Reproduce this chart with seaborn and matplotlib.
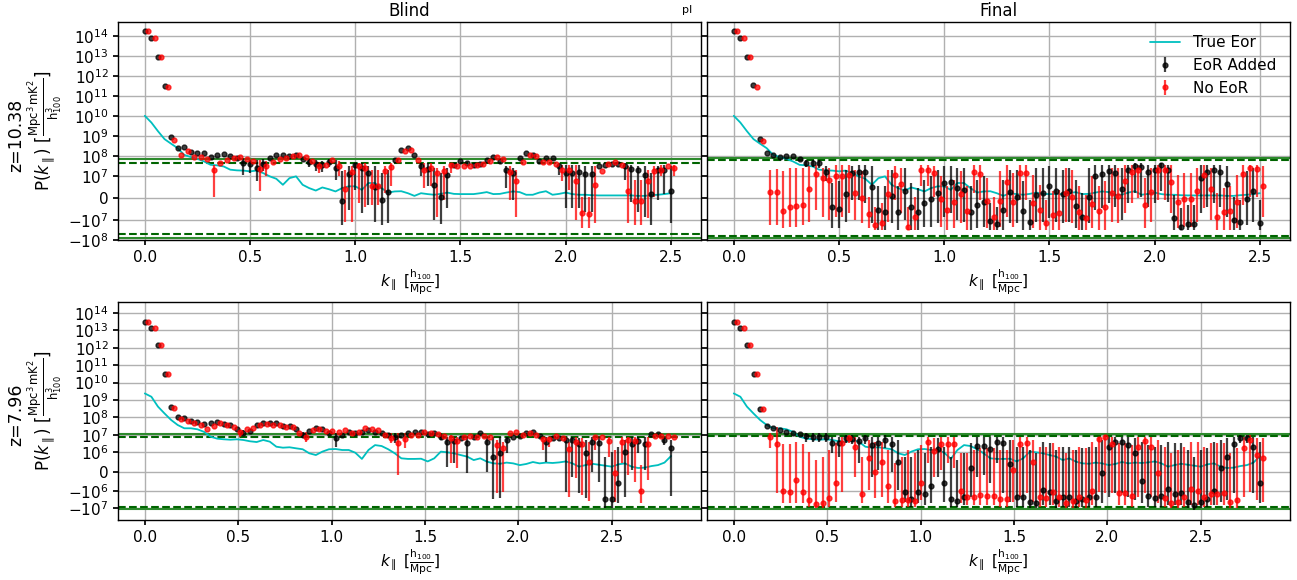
import numpy as np
import matplotlib
matplotlib.use('Agg')
import matplotlib.pyplot as plt
import seaborn as sns

n = np.nan

# k_parallel grids (h100/Mpc), 81 bins each
k_z1038 = np.linspace(0, 2.5, 81)
k_z796 = np.linspace(0, 2.818, 81)

#%% z = 10.38 ----------------------------------------------------------------
true_z1038 = [1e10, 4.6e9, 1.7e9, 6.8e8, 4e8, 2.4e8, 1.1e8, 8.6e7, 7e7, 5.2e7,
              3.5e7, 3.3e7, 2.9e7, 2e7, 1.85e7, 1.8e7, 1.65e7, 1.8e7, 1.35e7, 9.7e6,
              8.6e6, 5.9e6, 8.9e6, 9.7e6, 5.9e6, 4.4e6, 3.3e6, 4.7e6, 3.9e6, 2.9e6,
              4.4e6, 5.2e6, 5.2e6, 3.6e6, 6.7e6, 6.7e6, 4.4e6, 2.4e6, 2.9e6, 3e6,
              2.1e6, 9e5, 2.1e6, 1.7e6, 1.4e6, 1.8e6, 2.4e6, 1.8e6, 1.7e6, 1.7e6,
              1.7e6, 2.1e6, 2.6e6, 1.7e6, 1.8e6, 2.4e6, 2.9e6, 2.6e6, 1.4e6, 1.4e6,
              2.4e6, 3e6, 1.4e6, 1.8e6, 2.4e6, 1.7e6, 1.4e6, 1.4e6, 1.2e6, 1.1e6,
              1.1e6, 1.1e6, 1.1e6, 1.1e6, 1.1e6, 9e5, 9e5, 1.2e6, 1.4e6, 1.7e6,
              2.1e6]

# Blind, EoR added (value, top of bar, bottom of bar; nan = no visible bar)
blind_add_z1038 = [1.7e14, 8.3e13, 9.2e12, 3.2e11, 8.6e8, 2.4e8, 2.8e8, 1.6e8, 1.36e8, 1.36e8,
                   8.6e7, 1.08e8, 1.2e8, 9.3e7, 7.6e7, 4.3e7, 3.8e7, 2.4e7, 3.8e7, 7.6e7,
                   1.03e8, 1.08e8, 9.3e7, 1.03e8, 7.1e7, 4.6e7, 4e7, 3.5e7, 4.8e7, 2.5e7,
                   -1.4e6, 1.26e7, 3.3e7, 2.4e7, 1.36e7, 4.8e6, -9e5, 2.6e6, 6.3e7, 2e8,
                   2.5e8, 1.03e8, 2.9e7, 2.15e7, 5.6e6, 3e5, 1.12e7, 3.5e7, 5.2e7, 4.3e7,
                   3.5e7, 3.8e7, 5.8e7, 8.6e7, 5.4e7, 1.85e7, 1.36e7, 7.6e7, 1.36e8, 1.03e8,
                   5.6e7, 7.6e7, 7.4e7, 2.9e7, 1.36e7, 1.36e7, 1.47e7, 1.2e7, 1.2e7, 2.9e7,
                   3.4e7, 3.8e7, 4e7, 2.9e7, 2.15e7, 1.85e7, 1.12e7, 1.8e6, 1.85e7, 2e7,
                   3.3e6]
blind_add_hi_z1038 = [n, n, n, n, n, n, n, n, n, n,
                      n, n, n, n, n, 7.6e7, 6.3e7, 6.3e7, 6.8e7, n,
                      n, n, n, n, n, 6.8e7, 6.3e7, 5.5e7, 6.8e7, 6.3e7,
                      1.65e7, 2.9e7, 4.3e7, 4.3e7, 2.9e7, 2.9e7, 1.36e7, 2e7, n, n,
                      n, n, 4.3e7, 4.3e7, 2.4e7, 1.36e7, 2.4e7, n, n, n,
                      n, n, n, n, n, 2.9e7, 2.4e7, n, n, n,
                      n, n, n, 4.3e7, 3.5e7, 3.5e7, 3.5e7, 2.9e7, 2.9e7, n,
                      n, n, n, 4.3e7, 3.5e7, 2.9e7, 2.9e7, 1.36e7, 2.9e7, 3.5e7,
                      2.9e7]
blind_add_lo_z1038 = [n, n, n, n, n, n, n, n, n, n,
                      n, n, n, n, n, 1.1e7, 1.36e7, 7.4e6, 1.65e7, n,
                      n, n, n, n, n, 2.6e7, 1.8e7, 1.5e7, 2.8e7, 8.2e6,
                      -1.8e7, -5.5e6, 3.6e6, -7e6, -3.2e6, -1.2e7, -1.8e7, -1.47e7, n, n,
                      n, n, 9.7e6, 5.2e6, -1e7, -1.6e7, -4.7e6, n, n, n,
                      n, n, n, n, n, 4.4e6, -9e5, n, n, n,
                      n, n, n, 1.12e7, -4.7e6, -4.7e6, -4.7e6, -6.2e6, -6.2e6, n,
                      n, n, n, 8.2e6, -1.7e6, -6.2e6, -8.5e6, -1.8e7, -9e5, 1.9e6,
                      -1.47e7]

# Blind, no EoR
blind_no_z1038 = [1.7e14, 8.3e13, 9.2e12, 2.9e11, 6.3e8, 1.1e8, 1.8e8, 8.6e7, 8.6e7, 7.1e7,
                  1.85e7, 4.3e7, 6.3e7, 7.6e7, 8.6e7, 6.8e7, 5.2e7, 2.15e7, 3.2e7, 4.8e7,
                  6.8e7, 7.4e7, 9.3e7, 1.03e8, 8.6e7, 5.2e7, 3.2e7, 3.5e7, 5.8e7, 2.9e7,
                  3.9e6, 1.47e7, 2.9e7, 2.4e7, 5.2e6, 5.2e6, 1.65e7, 2.7e7, 6.3e7, 1.8e8,
                  1.85e8, 6.3e7, 2e7, 2.4e7, 1.36e7, 1.65e7, 3.3e7, 2.9e7, 2.9e7, 3.2e7,
                  3.3e7, 3.8e7, 5.2e7, 8.6e7, 6.8e7, 1.5e7, 7.7e6, 4.8e7, 1.03e8, 9.3e7,
                  4.6e7, 4.8e7, 3.8e7, 2e7, 2e7, 7.4e6, -7e6, -7.3e6, 5.6e6, 1.65e7,
                  3.8e7, 4.6e7, 3.5e7, 3.3e6, -1.2e6, -1.2e6, 7.4e6, 1.65e7, 2e7, 3.2e7,
                  2.3e7]
blind_no_hi_z1038 = [n, n, n, n, n, n, n, n, n, n,
                     3.5e7, n, n, n, n, n, n, 6.3e7, 5.2e7, n,
                     n, n, n, n, n, n, 4.6e7, n, n, 5.2e7,
                     2e7, 2.9e7, 4.3e7, 4.3e7, 2e7, 2e7, 2.9e7, 4.3e7, n, n,
                     n, n, 4.3e7, 4.3e7, 2.4e7, 2.9e7, 4.3e7, n, n, n,
                     n, n, n, n, n, 2.9e7, 2e7, n, n, n,
                     n, n, n, 3.5e7, 3.5e7, 3.5e7, 6e5, 6e5, 2.9e7, n,
                     n, n, n, 2.9e7, 8.2e6, 8.2e6, 2e7, 2.9e7, 3.5e7, n,
                     3.5e7]
blind_no_lo_z1038 = [n, n, n, n, n, n, n, n, n, n,
                     6e5, n, n, n, n, n, n, 3.3e6, 9.7e6, n,
                     n, n, n, n, n, n, 1.36e7, n, n, 9.7e6,
                     -1.2e7, -1.2e7, -2.4e6, -3.9e6, -3.2e6, -3.2e6, 2.1e6, 5.2e6, n, n,
                     n, n, 4.4e6, 5.2e6, -8.5e6, -9e5, 1.36e7, n, n, n,
                     n, n, n, n, n, -9e5, -8.5e6, n, n, n,
                     n, n, n, 7.4e6, 3.6e6, -1e7, -2.6e7, -2.6e7, -1.47e7, n,
                     n, n, n, -1.47e7, -1.8e7, -1.8e7, -9.2e6, 4.5e5, 9.7e6, n,
                     9.7e6]

# Final, EoR added
final_add_z1038 = [1.7e14, 8.3e13, 9.2e12, 3.4e11, 6.8e8, 1.36e8, 1.03e8, 8.6e7, 9.3e7, 9.6e7,
                   7.1e7, 4.3e7, 4.3e7, 4.3e7, 1.6e7, -3.9e6, -5.2e6, 1.7e6, 1.3e7, 1.47e7,
                   1.5e7, 5e6, -5.5e6, -6.5e6, 7.6e5, -6.2e6, 3.2e6, -4.2e6, -6.5e6, -2.4e6,
                   -6e5, 2.4e6, 6.5e6, 7.3e6, 4.4e6, 3.6e6, -6.4e6, -3e6, -1.7e6, -1.1e7,
                   -1.6e7, -5.5e6, 2.6e6, 3e5, -5.9e6, -1.3e7, 1.5e6, 2.1e6, 5.5e6, 3.3e6,
                   1.8e6, 3.2e6, -3.6e6, -8.8e6, 3e5, 9.7e6, 1.15e7, 1.8e7, 1.3e7, 3.9e6,
                   1.85e7, 2.9e7, 2.7e7, 1.47e7, 1.85e7, 3.3e7, 2e7, -9.2e6, -2.15e7, -1.65e7,
                   -1.65e7, 8.9e6, 1.47e7, 1.85e7, 1.47e7, 6.4e6, -1e7, -1.3e7, -4.5e5, 2.9e6,
                   -1.47e7]
final_add_hi_z1038 = [n, n, n, n, n, n, n, n, n, n,
                      n, 5.8e7, 5.8e7, 6.3e7, 2.9e7, 6.7e6, 7.4e6, 2e7, 2.9e7, 3.5e7,
                      3.5e7, 2.9e7, 5.2e6, 5.2e6, 2e7, 5.2e6, 2.4e7, 6.7e6, 4.4e6, 8.2e6,
                      9.7e6, 2e7, 2.9e7, 2.9e7, 2.4e7, 2.4e7, 5.2e6, 8.2e6, 9.7e6, -2.4e6,
                      -3.9e6, 8.2e6, 2e7, 2e7, 7.4e6, -9e5, 2.4e7, 2.4e7, 2.9e7, 2.4e7,
                      2e7, 2.4e7, 8.2e6, 2.1e6, 2.4e7, 3.5e7, 3.5e7, 3.5e7, 3.5e7, 2.4e7,
                      3.5e7, 4.3e7, 4.3e7, 3.5e7, 3.5e7, 4.3e7, 3.5e7, 1.4e6, -4.7e6, -3.2e6,
                      -3.2e6, 3.5e7, 3.5e7, 3.5e7, 3.5e7, 2.9e7, 6e5, -9e5, 1.65e7, 2.4e7,
                      -9e5]
final_add_lo_z1038 = [n, n, n, n, n, n, n, n, n, n,
                      n, 2.8e7, 2.8e7, 2.4e7, 7.4e6, -2.6e7, -2.6e7, -1.2e7, -9e5, -9e5,
                      -2.4e6, -1.47e7, -3.2e7, -3.2e7, -1.47e7, -3.2e7, -1e7, -3.2e7, -3.2e7, -2.15e7,
                      -2.15e7, -1.47e7, -8.5e6, -7e6, -1e7, -1.2e7, -3.2e7, -2.6e7, -2.15e7, -3.2e7,
                      -3.2e7, -3.2e7, -1.47e7, -1.47e7, -3.2e7, -3.2e7, -1.2e7, -1.2e7, -9.2e6, -1.2e7,
                      -1.47e7, -1.2e7, -2.6e7, -3.2e7, -1.47e7, -5.5e6, -4.7e6, -2.4e6, -3.9e6, -1e7,
                      -2.4e6, 2.1e6, 6e5, -3.9e6, -2.4e6, 2.9e6, -1.7e6, -3.2e7, -3.2e7, -3.2e7,
                      -3.2e7, -7e6, -3.9e6, -2.4e6, -3.9e6, -8.5e6, -3.2e7, -3.2e7, -1.8e7, -1.2e7,
                      -3.2e7]

# Final, no EoR
final_no_z1038 = [1.7e14, 8.3e13, 9.2e12, 2.9e11, 5.2e8, 2.6e6, 2.6e6, -5.8e6, -4.2e6, -3.5e6,
                  -3e6, 3.9e6, 1.2e7, 8.9e6, 8.2e6, 1e7, 9.7e6, 1.1e7, 2.1e6, -1.5e5,
                  -7.4e6, -1.85e7, -1.35e7, 1.8e6, 1.08e7, 6.2e6, -2.15e7, -8.8e6, 1.85e7, 2e7,
                  1.36e7, -4.5e5, -5.5e6, -1.7e6, 1.8e6, -5.8e6, 1.6e7, 1.2e7, -1.2e6, -8.8e6,
                  -1.4e6, 7e6, -1.7e6, 1.36e7, 1.36e7, -2.4e6, -5.5e6, -1.35e7, -7.7e6, -7e6,
                  2.1e6, 3e5, -6.2e6, -9.2e6, -2.7e6, -5.8e6, -4.2e6, 2.4e6, 9e5, 7.4e6,
                  1.47e7, 2e7, -3.2e6, 2.6e6, 1.85e7, 1.85e7, 7.3e6, -1.7e6, -6e5, -6e5,
                  3.3e6, 1.05e7, 3.9e6, -8.8e6, -6.5e6, -5.8e6, -1.7e6, 1.2e7, 2.3e7, 2.15e7,
                  5.5e6]
final_no_hi_z1038 = [n, n, n, n, n, 2e7, 2.15e7, 1.65e7, 2.4e7, 2.4e7,
                     2.4e7, 2.9e7, 3.5e7, 2.4e7, 2.4e7, 3.5e7, 3.5e7, 3.5e7, 2e7, 1.65e7,
                     6e5, -3.9e6, -2.4e6, 2e7, 2.9e7, 2.4e7, -3.9e6, 6e5, 3.5e7, 3.5e7,
                     2.9e7, 9.7e6, 5.2e6, 8.2e6, 1.65e7, 5.2e6, 3.5e7, 3.5e7, 8.9e6, 6e5,
                     1.65e7, 3.5e7, 1.36e7, 3.5e7, 3.5e7, 1.12e7, 5.9e6, -9e5, 2.9e6, 3.6e6,
                     2.4e7, 2e7, 5.2e6, 1.4e6, 9.7e6, 5.2e6, 7.4e6, 2.4e7, 2.4e7, 3.5e7,
                     3.5e7, 3.5e7, 8.9e6, 2.4e7, 3.5e7, 3.5e7, 3.5e7, 1.12e7, 1.36e7, 1.36e7,
                     2.4e7, 3.5e7, 2.4e7, 2.1e6, 4.4e6, 5.2e6, 1.12e7, 3.5e7, 3.5e7, 3.5e7,
                     2.9e7]
final_no_lo_z1038 = [n, n, n, n, n, -1.8e7, -1.8e7, -2.6e7, -2.15e7, -2.15e7,
                     -1.8e7, -1.2e7, -5.5e6, -8.5e6, -1e7, -8.5e6, -8.5e6, -7e6, -1e7, -1.47e7,
                     -2.6e7, -3.2e7, -3.2e7, -1.2e7, -9e5, -7e6, -3.2e7, -3.2e7, 5.2e6, 5.2e6,
                     6e5, -2.15e7, -3.2e7, -2.6e7, -1.47e7, -3.2e7, 2.1e6, -9e5, -2.6e7, -3.2e7,
                     -2.15e7, -8.5e6, -2.15e7, -9e5, -9e5, -2.6e7, -3.2e7, -3.2e7, -3.2e7, -3.2e7,
                     -1.2e7, -1.47e7, -3.2e7, -3.2e7, -2.6e7, -3.2e7, -3.2e7, -1.2e7, -1.47e7, -7e6,
                     -2.4e6, -1.5e5, -2.6e7, -1.2e7, -9e5, -9e5, -7e6, -2.6e7, -2.15e7, -2.15e7,
                     -1.2e7, -4.7e6, -1e7, -3.2e7, -3.2e7, -3.2e7, -2.6e7, -3.2e6, 6e5, 6e5,
                     -8.5e6]

#%% z = 7.96 ------------------------------------------------------------------
true_z796 = [2.4e9, 1.55e9, 4.2e8, 1.7e8, 7.2e7, 3.7e7, 2.4e7, 2.4e7, 2.1e7, 1.5e7,
             7.9e6, 6.1e6, 5.6e6, 5.3e6, 5.6e6, 5.1e6, 4.3e6, 3.9e6, 5.1e6, 4.1e6,
             2.1e6, 1.85e6, 1.95e6, 1.7e6, 1.5e6, 9.5e5, 8.6e5, 1.1e6, 1.5e6, 1.55e6,
             1.36e6, 1.36e6, 9.8e5, 6.6e5, 1.36e6, 2.6e6, 2.3e6, 1.5e6, 9.5e5, 6.9e5,
             6.6e5, 6.6e5, 6.7e5, 5.3e5, 6.9e5, 1.1e6, 1e6, 9.5e5, 8.6e5, 7.8e5,
             6e5, 6.9e5, 5.2e5, 4.3e5, 4.1e5, 4.7e5, 4.3e5, 3.4e5, 4e5, 5e5,
             4.3e5, 4.7e5, 4.5e5, 4.8e5, 5.3e5, 4.3e5, 2.6e5, 3.4e5, 4.1e5, 3.6e5,
             3.1e5, 2.6e5, 3.8e5, 4.3e5, 2.6e5, 1.9e5, 2.1e5, 2.9e5, 3.4e5, 4.7e5,
             8.1e5]

blind_add_z796 = [2.9e13, 1.4e13, 1.45e12, 3.1e10, 3.8e8, 1e8, 8.9e7, 6.6e7, 5.7e7, 4e7,
                  4.6e7, 5.3e7, 4.2e7, 3.7e7, 2.1e7, 1.35e7, 1.7e7, 3.7e7, 5e7, 5e7,
                  4.6e7, 3.2e7, 3.2e7, 2.1e7, 9.8e6, 1.75e7, 2.4e7, 2.2e7, 1.23e7, 6.3e6,
                  1.05e7, 1.4e7, 1.35e7, 1.5e7, 1.9e7, 1.5e7, 1.35e7, 9.8e6, 7.9e6, 9.8e6,
                  1.35e7, 1.5e7, 1.5e7, 1.13e7, 1.23e7, 7.9e6, 4.1e6, 4.7e6, 6.3e6, 3.6e6,
                  7.9e6, 1.23e7, 4.1e6, 7.8e5, 9.5e5, 5.1e6, 7.9e6, 8.9e6, 1.23e7, 1.5e7,
                  8.9e6, 4.1e6, 6.3e6, 6.3e6, 5.1e6, 5.1e6, 3e6, 9.8e5, 4.1e6, 3.3e6,
                  -3e6, -3e6, -5.7e5, 1.1e6, 3e6, 4.7e6, 3e6, 1.13e7, 1.13e7, 5.1e6,
                  1.7e6]
blind_add_hi_z796 = [n, n, n, n, n, n, n, n, n, n,
                     n, n, n, n, n, 1.9e7, n, n, n, n,
                     n, n, n, n, 1.5e7, n, n, n, n, 1.23e7,
                     n, n, n, n, n, n, n, n, 1.23e7, n,
                     n, n, n, n, n, 1.23e7, 7.9e6, 7.9e6, n, 7.9e6,
                     n, n, 7.9e6, 7.9e6, 7.9e6, 7.9e6, n, n, n, n,
                     n, 7.9e6, n, n, 7.9e6, 7.9e6, 6.3e6, 5.1e6, 7.9e6, 7.9e6,
                     7.8e5, 1.1e6, 2.1e6, 5.1e6, 7.9e6, 7.9e6, 7.9e6, n, n, 7.9e6,
                     5.1e6]
blind_add_lo_z796 = [n, n, n, n, n, n, n, n, n, n,
                     n, n, n, n, n, 9.8e6, n, n, n, n,
                     n, n, n, n, 6.3e6, n, n, n, n, 2.1e6,
                     n, n, n, n, n, n, n, n, 3.3e6, n,
                     n, n, n, n, n, 5e6, 2.6e5, 4.3e5, n, -8.6e4,
                     n, n, 0, -3e6, -2.6e6, 9.5e5, n, n, n, n,
                     n, 5.2e5, n, n, -1.1e6, -2.6e5, -1.36e6, -2.6e6, 0, -5.2e5,
                     -9.8e6, -9.8e6, -5.1e6, -2.1e6, 8.6e4, 9.5e5, 8.6e4, n, n, 2.6e6,
                     -1.85e6]

blind_no_z796 = [2.9e13, 1.4e13, 1.45e12, 3.1e10, 3.5e8, 8.5e7, 6.6e7, 5e7, 3.7e7, 2.3e7,
                 3.4e7, 4.6e7, 3.7e7, 2.8e7, 1.5e7, 2.1e7, 2.6e7, 3.7e7, 4.2e7, 3.7e7,
                 3.7e7, 3e7, 2.7e7, 1.35e7, 7.9e6, 1.9e7, 2.2e7, 1.7e7, 1.75e7, 1.5e7,
                 1.9e7, 1.35e7, 1.5e7, 2.4e7, 2.2e7, 1.9e7, 9.8e6, 7e6, 3.6e6, 5.6e6,
                 9.8e6, 1.05e7, 1.5e7, 1.35e7, 1.13e7, 8.6e6, 6.3e6, 4.7e6, 7.9e6, 8.9e6,
                 7.9e6, 8.9e6, 7.9e6, 2.6e6, 1.85e6, 1.23e7, 1.5e7, 1.05e7, 1.23e7, 1.05e7,
                 5.6e6, 5.6e6, 8.6e6, 6.3e6, 1.5e6, 4.1e6, 3e6, 5.2e5, 7.9e6, 7.9e6,
                 4.7e6, -5e4, 4.1e6, 5.1e6, 4.7e6, -1e6, 3e6, 8.9e6, 8.9e6, 8.9e6,
                 7.9e6]
blind_no_hi_z796 = [n, n, n, n, n, n, n, n, n, n,
                    n, n, n, n, 1.9e7, n, n, n, n, n,
                    n, n, n, n, 1.5e7, n, n, n, n, n,
                    n, n, n, n, n, n, n, 1.23e7, 1.23e7, 1.23e7,
                    n, n, n, n, n, n, 9.8e6, 7.9e6, n, n,
                    n, n, n, 5.1e6, 4.1e6, n, n, n, n, n,
                    7.9e6, 7.9e6, n, n, 4.1e6, 7.9e6, 6.3e6, 4.1e6, 7.9e6, n,
                    7.9e6, 1.36e6, 7.9e6, 7.9e6, 7.9e6, 3.4e5, 7.9e6, n, n, n,
                    n]
blind_no_lo_z796 = [n, n, n, n, n, n, n, n, n, n,
                    n, n, n, n, 7.9e6, n, n, n, n, n,
                    n, n, n, n, 4.1e6, n, n, n, n, n,
                    n, n, n, n, n, n, n, 3.6e6, -1.7e5, 1.7e6,
                    n, n, n, n, n, n, 4.3e5, 1.7e5, n, n,
                    n, n, n, -1.36e6, -1.1e6, n, n, n, n, n,
                    1.36e6, 2.1e6, n, n, -2.1e6, -3.4e5, -1.7e6, -3.6e6, 1.36e6, n,
                    7.8e5, -4.1e6, 4.3e5, -1.7e5, -5.2e5, -5.1e6, -4.3e5, n, n, n,
                    n]

final_add_z796 = [2.9e13, 1.3e13, 1.45e12, 3.3e10, 3.2e8, 3.4e7, 2.4e7, 1.9e7, 1.5e7, 1.35e7,
                  1.13e7, 8.6e6, 7.9e6, 7.9e6, 7.9e6, 3.6e6, 3.3e6, 6.3e6, 5.8e6, 4.5e6,
                  6.3e6, 2.6e6, 3.3e6, 5.1e6, 3e6, 5.2e5, -1.1e6, -2.9e6, -1.1e6, -1.55e6,
                  -7.4e5, 1.5e6, -5.7e5, -3e6, -3.6e6, -2.1e6, 2.1e5, 2.3e6, 2.3e6, 1.55e6,
                  4.1e6, 3.3e6, 3.8e5, -2.1e6, -2.3e6, -4.1e6, -4.7e6, -9.5e5, -1.14e6, -3.7e6,
                  -2.3e6, -2.3e6, -3.7e6, -2.9e6, -2.3e6, -2.3e6, -8.6e4, 2.1e6, 3.7e6, 3.9e6,
                  2.5e6, 9.8e5, -4.8e5, -1.85e6, -2.6e6, -1.85e6, -9.1e5, -1.5e6, -1.25e6, -4.1e6,
                  -6.3e6, -4.1e6, -3e6, -1e6, 1.7e5, 7.8e5, 3e6, 6.9e6, 6.9e6, 2.1e6,
                  -5.7e5]
final_add_hi_z796 = [n, n, n, n, n, n, n, n, n, n,
                     n, 1.23e7, 1.23e7, 1.23e7, 1.23e7, 7.9e6, 7.9e6, 9.8e6, 9.8e6, 7.9e6,
                     9.8e6, 7.9e6, 7.9e6, 9.8e6, 7.9e6, 5.1e6, 7.8e5, 7.8e5, 1.36e6, 9.5e5,
                     2.1e6, 6.3e6, 2.1e6, 7.8e5, 6e5, 9.5e5, 3.3e6, 7.9e6, 7.9e6, 7.9e6,
                     7.9e6, 7.9e6, 5.1e6, 2.1e6, 2.1e6, 1.36e6, 9.5e5, 4.1e6, 3.3e6, 1.36e6,
                     2.1e6, 2.1e6, 1.36e6, 1.7e6, 2.1e6, 2.1e6, 5.1e6, 7.9e6, 7.9e6, 7.9e6,
                     7.9e6, 6.3e6, 4.1e6, 2.6e6, 2.1e6, 2.6e6, 4.1e6, 3.3e6, 3.3e6, 1.36e6,
                     7.8e5, 1.36e6, 1.7e6, 4.1e6, 5.1e6, 6.3e6, 7.9e6, 9.8e6, 9.8e6, 7.9e6,
                     4.1e6]
final_add_lo_z796 = [n, n, n, n, n, n, n, n, n, n,
                     n, 4.1e6, 4.1e6, 4.1e6, 4.1e6, 9.5e5, 7.8e5, 3.3e6, 3e6, 4.3e5,
                     3e6, -2.6e5, 8.6e4, 1.7e6, 0, -9.5e5, -4.1e6, -7.9e6, -5.1e6, -6.3e6,
                     -5.1e6, -2.6e5, -4.1e6, -7.9e6, -7.9e6, -6.3e6, -2.1e6, -2.6e5, -1.7e5, -6e5,
                     4.3e5, -1.36e6, -4.1e6, -7.9e6, -7.9e6, -9.8e6, -9.8e6, -6.3e6, -6.3e6, -9.8e6,
                     -7.9e6, -7.9e6, -9.8e6, -7.9e6, -7.9e6, -7.9e6, -5.1e6, -2.1e6, -1.36e6, -1.36e6,
                     -2.1e6, -3.3e6, -5.1e6, -7.9e6, -7.9e6, -7.9e6, -6.3e6, -6.3e6, -6.3e6, -9.8e6,
                     -1.23e7, -9.8e6, -7.9e6, -6.3e6, -4.1e6, -3.3e6, -1.36e6, 3.3e6, 3.3e6, -1.36e6,
                     -5.1e6]

final_no_z796 = [2.9e13, 1.3e13, 1.45e12, 3.3e10, 2.9e8, 7.3e6, 3e6, -1e6, -1.1e6, -4.3e5,
                 -1.2e6, -3.3e6, -5.6e6, -5.1e6, -2.6e6, -6e5, 3.3e6, 6.9e6, 2.1e6, -1.5e6,
                 6.9e5, 0, 5.2e5, -7.4e5, -3.9e6, -3.3e6, -3.3e6, -3.6e6, -5.7e5, 3.9e6,
                 1.2e6, 3e6, 3e6, 3e6, -1e6, -2.1e6, -2.1e6, -1.7e6, -1.9e6, -1.9e6,
                 -2.8e6, -2.8e6, 8.6e4, 2.9e6, 3.6e6, 5.2e5, -2.1e6, -2.4e6, -1.2e6, -2.3e6,
                 -4.7e6, -3.5e6, -2.1e6, -3.3e6, -1e6, 5.8e6, 7.3e6, 2.9e6, -1.36e6, -1.36e6,
                 -1.85e6, 2.1e6, 4.7e6, 2.1e6, -8.6e4, -2.6e6, -4.7e6, -4.1e6, -2.3e6, -9.1e5,
                 -1e6, -2.3e6, -1.5e6, -1.55e6, -1.36e6, -4.5e6, -3.3e6, 1.7e6, 5.1e6, 8.6e5,
                 6.9e5]
final_no_hi_z796 = [n, n, n, n, n, 1.23e7, 3e7, 3e6, 3e6, 3.9e6,
                    3e6, 1.1e6, 6e5, 7.8e5, 1.36e6, 3.3e6, 7.9e6, 1e7, 7.9e6, 7.8e5,
                    5.1e6, 4.1e6, 4.1e6, 1.36e6, 4.3e5, 7.8e5, 1.36e6, 9.5e5, 2.6e6, 7.9e6,
                    6.3e6, 7.9e6, 7.9e6, 7.9e6, 9.5e5, 9.5e5, 1.36e6, 1.7e6, 1.7e6, 1.7e6,
                    1.36e6, 1.36e6, 5.1e6, 7.9e6, 7.9e6, 5.1e6, 2.1e6, 2.1e6, 3.3e6, 2.1e6,
                    9.5e5, 1.36e6, 2.1e6, 1.7e6, 4.1e6, 7.9e6, 9.8e6, 7.9e6, 3.3e6, 3.3e6,
                    2.6e6, 7.9e6, 7.9e6, 7.9e6, 5.1e6, 2.1e6, 9.5e5, 1.36e6, 2.1e6, 4.1e6,
                    4.1e6, 2.1e6, 3.3e6, 3.3e6, 3.3e6, 9.5e5, 1.7e6, 7.9e6, 9.8e6, 6.3e6,
                    6.3e6]
final_no_lo_z796 = [n, n, n, n, n, 1.7e6, -1.36e6, -5.1e6, -5.1e6, -5.1e6,
                    -5.1e6, -7.9e6, -9.8e6, -9.8e6, -7.9e6, -4.1e6, -1.1e6, 3.5e6, -2.6e5, -5.1e6,
                    -9.5e5, -2.6e6, -2.1e6, -5.1e6, -7.9e6, -7.9e6, -7.9e6, -7.9e6, -3.3e6, 4.3e5,
                    -2.6e5, 8.6e4, 4.3e5, 1.7e5, -5.1e6, -6.3e6, -6.3e6, -6.3e6, -6.3e6, -6.3e6,
                    -7.9e6, -7.9e6, -4.1e6, -2.1e6, -1.36e6, -4.1e6, -7.9e6, -7.9e6, -6.3e6, -7.9e6,
                    -9.8e6, -9.8e6, -7.9e6, -9.8e6, -6.3e6, -1.1e6, -1.36e6, -1.36e6, -6.3e6, -6.3e6,
                    -7.9e6, -2.1e6, -1.36e6, -2.1e6, -5.1e6, -7.9e6, -9.8e6, -9.8e6, -7.9e6, -6.3e6,
                    -6.3e6, -7.9e6, -6.3e6, -6.3e6, -6.3e6, -9.8e6, -9.8e6, -2.1e6, -1.1e6, -3.3e6,
                    -4.1e6]

# noise levels (solid: upper/lower, dashed: upper/lower)
noise_solid = {'bl10': (6.5e7, -7.6e7), 'fi10': (7.4e7, -7.6e7),
               'bl7': (1.13e7, -1.07e7), 'fi7': (1.1e7, -1.07e7)}
noise_dash = {'bl10': (4.3e7, -5e7), 'fi10': (5.8e7, -6.1e7),
              'bl7': (7.9e6, -7.9e6), 'fi7': (9e6, -8.6e6)}

#%%
sns.set_theme(style='whitegrid', color_codes=False, rc={
    'axes.edgecolor': 'k', 'axes.linewidth': 1.0, 'grid.color': '#b0b0b0',
    'grid.linewidth': 1.0, 'xtick.bottom': True, 'ytick.left': True,
    'xtick.color': 'k', 'ytick.color': 'k', 'text.color': 'k',
    'axes.labelcolor': 'k', 'xtick.major.size': 3.5, 'ytick.major.size': 3.5,
    'xtick.labelsize': 11, 'ytick.labelsize': 11, 'axes.labelsize': 11,
    'axes.titlesize': 12})
plt.rcParams['font.family'] = ['DejaVu Sans']

CYAN = '#00bfbf'
RED = '#ff0000'
BLACK = '#000000'


def bars(v, hi, lo):
    v = np.asarray(v, float)
    hi = np.asarray(hi, float)
    lo = np.asarray(lo, float)
    hi = np.where(np.isnan(hi), v, hi)
    lo = np.where(np.isnan(lo), v, lo)
    return [np.clip(v - lo, 0, None), np.clip(hi - v, 0, None)]


def panel(ax, k, true, add, add_hi, add_lo, no, no_hi, no_lo, key, linthresh,
          ylim, yticks, legend=False):
    ax.set_yscale('symlog', linthresh=linthresh)
    dk = k[1] - k[0]
    for y in noise_solid[key]:
        ax.axhline(y, color='#2e8b2e', lw=1.5, zorder=2)
    for y in noise_dash[key]:
        ax.axhline(y, color='#006400', lw=1.5, ls='--', zorder=2)
    sns.lineplot(x=k, y=np.asarray(true), ax=ax, color=CYAN, lw=1.3,
                 label='True Eor' if legend else None, legend=False, zorder=3)
    ax.errorbar(k, add, yerr=bars(add, add_hi, add_lo), fmt='o', color=BLACK,
                ms=3.5, elinewidth=1.6, alpha=0.75, label='EoR Added', zorder=4)
    ax.errorbar(k + dk / 2, no, yerr=bars(no, no_hi, no_lo), fmt='o', color=RED,
                ms=3.5, elinewidth=1.6, alpha=0.75, label='No EoR', zorder=4)
    ax.set_ylim(ylim)
    ax.set_yticks(yticks)
    ax.yaxis.set_minor_locator(matplotlib.ticker.NullLocator())
    ax.set_xticks([0, 0.5, 1.0, 1.5, 2.0, 2.5])
    ax.set_xlabel(r'$k_\parallel$ [$\frac{\mathrm{h_{100}}}{\mathrm{Mpc}}$]',
                  labelpad=2)
    ax.grid(True)
    for s in ax.spines.values():
        s.set_color('k')
    if legend:
        ax.legend(loc='upper right', frameon=False, fontsize=11)


fig = plt.figure(figsize=(12.97, 5.8), dpi=100)
w, h = 0.4491, 0.3764
ax1 = fig.add_axes([0.0912, 0.5862, w, h])
ax2 = fig.add_axes([0.5453, 0.5862, w, h])
ax3 = fig.add_axes([0.0912, 0.1034, w, h])
ax4 = fig.add_axes([0.5453, 0.1034, w, h])

ticks10 = [-1e8, -1e7, 0] + [10.0 ** p for p in range(7, 15)]
ticks7 = [-1e7, -1e6, 0] + [10.0 ** p for p in range(6, 15)]

panel(ax1, k_z1038, true_z1038, blind_add_z1038, blind_add_hi_z1038, blind_add_lo_z1038,
      blind_no_z1038, blind_no_hi_z1038, blind_no_lo_z1038, 'bl10', 1e7,
      (-1e8, 5.2e14), ticks10)
panel(ax2, k_z1038, true_z1038, final_add_z1038, final_add_hi_z1038, final_add_lo_z1038,
      final_no_z1038, final_no_hi_z1038, final_no_lo_z1038, 'fi10', 1e7,
      (-1e8, 5.2e14), ticks10, legend=True)
panel(ax3, k_z796, true_z796, blind_add_z796, blind_add_hi_z796, blind_add_lo_z796,
      blind_no_z796, blind_no_hi_z796, blind_no_lo_z796, 'bl7', 1e6,
      (-4.6e7, 4.4e14), ticks7)
panel(ax4, k_z796, true_z796, final_add_z796, final_add_hi_z796, final_add_lo_z796,
      final_no_z796, final_no_hi_z796, final_no_lo_z796, 'fi7', 1e6,
      (-4.6e7, 4.4e14), ticks7)

for ax in (ax1, ax2):
    ax.set_xlim(-0.126, 2.642)
for ax in (ax3, ax4):
    ax.set_xlim(-0.142, 2.977)
for ax in (ax2, ax4):
    ax.set_yticklabels([])

punit = r'[$\frac{\mathrm{Mpc^3\,mK^2}}{\mathrm{h^3_{100}}}$]'
for ax, z in ((ax1, 'z=10.38'), (ax3, 'z=7.96')):
    ax.set_ylabel('P($k_\\parallel$) ' + punit, fontsize=12, labelpad=2)
    ax.text(-0.175, 0.48, z, rotation=90, transform=ax.transAxes,
            ha='center', va='center', fontsize=12.5)
ax1.set_title('Blind', pad=4)
ax2.set_title('Final', pad=4)
fig.text(0.526, 0.977, 'pI', fontsize=8)

fig.savefig('out.png', dpi=100)
